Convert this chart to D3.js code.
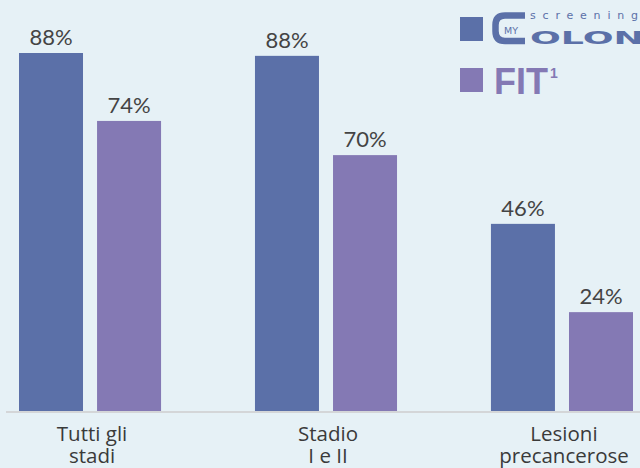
<!DOCTYPE html>
<html>
<head>
<meta charset="utf-8">
<script src="https://cdn.jsdelivr.net/npm/d3@7"></script>
<style>
  body { margin: 0; background: #e6f1f6; }
  svg { display: block; overflow: hidden; }
  .value { font-family: Lato, sans-serif; font-size: 22px; fill: #444; text-anchor: middle; }
  .cat { font-family: "Open Sans", sans-serif; font-size: 20.5px; fill: #3a3a3a; text-anchor: middle; }
</style>
</head>
<body>
<div id="container"></div>
<script>
// categories (two-line labels)
var categories = ["Tutti gli stadi", "Stadio I e II", "Lesioni precancerose"];
var categoryLines = [["Tutti gli", "stadi"], ["Stadio", "I e II"], ["Lesioni", "precancerose"]];
var series = ["MyColon", "FIT"];

// bar heights as drawn in the picture (in %)
var mycolonValues = [88, 87.3, 46];
var fitValues = [71.3, 62.9, 24.3];
// labels printed above the bars
var mycolonLabels = ["88%", "88%", "46%"];
var fitLabels = ["74%", "70%", "24%"];

var colors = { MyColon: "#5b70a8", FIT: "#8479b4" };

var width = 640, height = 468;
var baseline = 411;

var svg = d3.select("#container").append("svg")
    .attr("width", width)
    .attr("height", height);

svg.append("rect").attr("width", width).attr("height", height).attr("fill", "#e6f1f6");

var x = d3.scaleBand().domain(categories).range([19, 633]).paddingInner(0.398).paddingOuter(0);
var xs = d3.scaleBand().domain(series).range([0, x.bandwidth()]).paddingInner(0.18).paddingOuter(0);
var y = d3.scaleLinear().domain([0, 88]).range([baseline, 53]);

var data = [];
categories.forEach(function(c, i) {
    data.push({ cat: c, s: "MyColon", v: mycolonValues[i], label: mycolonLabels[i] });
    data.push({ cat: c, s: "FIT", v: fitValues[i], label: fitLabels[i] });
});

svg.selectAll(".bar")
    .data(data)
    .enter().append("rect")
    .attr("class", "bar")
    .attr("x", function(d) { return x(d.cat) + xs(d.s); })
    .attr("y", function(d) { return y(d.v); })
    .attr("width", xs.bandwidth())
    .attr("height", function(d) { return baseline - y(d.v); })
    .attr("fill", function(d) { return colors[d.s]; });

svg.selectAll(".value")
    .data(data)
    .enter().append("text")
    .attr("class", "value")
    .attr("x", function(d) { return x(d.cat) + xs(d.s) + xs.bandwidth() / 2; })
    .attr("y", function(d) { return y(d.v) - 8; })
    .text(function(d) { return d.label; });

// axis line
var xAxis = d3.axisBottom(x).tickSize(0).tickFormat("");
var gx = svg.append("g")
    .attr("transform", "translate(0," + (baseline + 1) + ")")
    .call(xAxis);
gx.select(".domain").attr("d", "M6,0H640").attr("stroke", "#d4d6d8").attr("stroke-width", 2);

// category labels
var cats = svg.selectAll(".cat")
    .data(categories)
    .enter().append("text")
    .attr("class", "cat")
    .attr("transform", function(d) { return "translate(" + (x(d) + x.bandwidth() / 2 + 2) + ",441)"; });
cats.selectAll("tspan")
    .data(function(d, i) { return categoryLines[i]; })
    .enter().append("tspan")
    .attr("x", 0)
    .attr("dy", function(d, i) { return i === 0 ? 0 : 22; })
    .text(function(d) { return d; });

// legend
var legend = svg.append("g");
legend.append("rect").attr("x", 460).attr("y", 17).attr("width", 23).attr("height", 24).attr("fill", colors.MyColon);
legend.append("rect").attr("x", 460).attr("y", 68).attr("width", 23).attr("height", 24).attr("fill", colors.FIT);

// MyColon logo
legend.append("path")
    .attr("d", "M525,15.5H505Q495.5,15.5 495.5,25V31Q495.5,41 505,41H525")
    .attr("fill", "none")
    .attr("stroke", colors.MyColon)
    .attr("stroke-width", 6.5);
legend.append("text")
    .attr("x", 504).attr("y", 34)
    .attr("font-family", "DejaVu Sans, sans-serif")
    .attr("font-size", 9.5)
    .attr("fill", colors.MyColon)
    .attr("textLength", 14).attr("lengthAdjust", "spacingAndGlyphs")
    .text("MY");
legend.append("text")
    .attr("x", 530).attr("y", 19)
    .attr("font-family", "DejaVu Sans, sans-serif")
    .attr("font-size", 11)
    .attr("fill", colors.MyColon)
    .attr("textLength", 108).attr("lengthAdjust", "spacing")
    .text("screening");
legend.append("text")
    .attr("x", 530).attr("y", 44)
    .attr("font-family", "DejaVu Sans, sans-serif")
    .attr("font-weight", "bold")
    .attr("font-size", 18)
    .attr("fill", colors.MyColon)
    .attr("textLength", 114).attr("lengthAdjust", "spacingAndGlyphs")
    .text("OLON");

// FIT label
legend.append("text")
    .attr("x", 494).attr("y", 94)
    .attr("font-family", "Liberation Sans, Arial, sans-serif")
    .attr("font-weight", "bold")
    .attr("font-size", 36)
    .attr("fill", colors.FIT)
    .text("FIT");
legend.append("text")
    .attr("x", 550).attr("y", 78)
    .attr("font-family", "Liberation Sans, Arial, sans-serif")
    .attr("font-weight", "bold")
    .attr("font-size", 14)
    .attr("fill", colors.FIT)
    .text("1");
</script>
</body>
</html>
